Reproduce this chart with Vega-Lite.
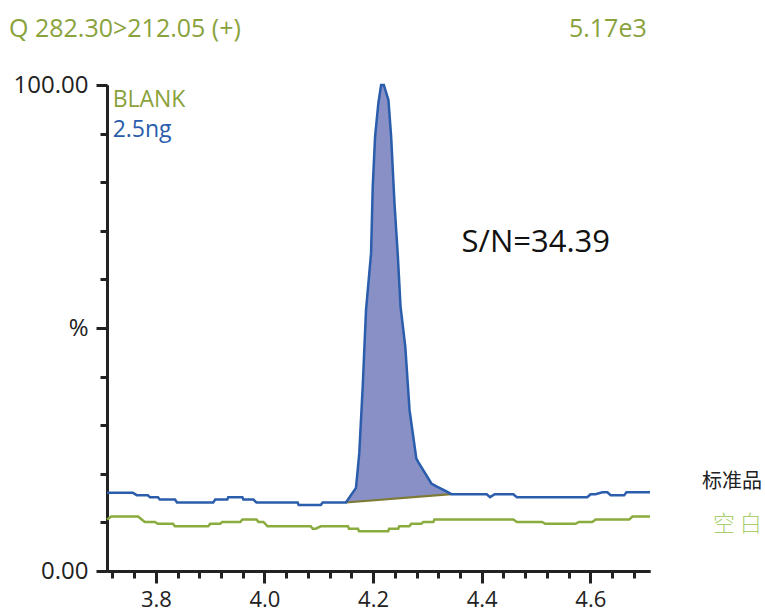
{
  "$schema": "https://vega.github.io/schema/vega-lite/v6.json",
  "width": 543,
  "height": 486,
  "autosize": "none",
  "padding": {"left": 107, "top": 85, "right": 115, "bottom": 40},
  "background": "white",
  "config": {"view": {"stroke": null}, "font": "Open Sans"},
  "resolve": {"axis": {"x": "independent", "y": "independent"}},
  "datasets": {
    "blue": [
      {"t": 3.71, "v": 16.1}, {"t": 3.7574, "v": 16.1}, {"t": 3.7648, "v": 15.6}, {"t": 3.7852, "v": 15.6},
      {"t": 3.7889, "v": 15.2}, {"t": 3.8037, "v": 15.2}, {"t": 3.8074, "v": 14.7}, {"t": 3.8352, "v": 14.7},
      {"t": 3.8389, "v": 14.1}, {"t": 3.9056, "v": 14.1}, {"t": 3.9093, "v": 14.7}, {"t": 3.9315, "v": 14.7},
      {"t": 3.9333, "v": 15.2}, {"t": 3.9593, "v": 15.2}, {"t": 3.9611, "v": 14.7}, {"t": 3.9796, "v": 14.7},
      {"t": 3.9852, "v": 14.1}, {"t": 4.0611, "v": 14.1}, {"t": 4.063, "v": 13.6}, {"t": 4.1037, "v": 13.6},
      {"t": 4.1074, "v": 14.1}, {"t": 4.15, "v": 14.1},
      {"t": 4.1685, "v": 17.1}, {"t": 4.1717, "v": 20.8}, {"t": 4.1746, "v": 24.3}, {"t": 4.1809, "v": 37.9},
      {"t": 4.187, "v": 53.7}, {"t": 4.1963, "v": 65.4}, {"t": 4.1994, "v": 79.1}, {"t": 4.2037, "v": 89.4},
      {"t": 4.2098, "v": 96.3}, {"t": 4.2148, "v": 100}, {"t": 4.2198, "v": 100}, {"t": 4.2283, "v": 96.9},
      {"t": 4.2333, "v": 89.4}, {"t": 4.2394, "v": 75.7}, {"t": 4.2457, "v": 64.7}, {"t": 4.2506, "v": 54.4},
      {"t": 4.2593, "v": 46.2}, {"t": 4.2672, "v": 33.1}, {"t": 4.2796, "v": 23.2}, {"t": 4.2828, "v": 22.5},
      {"t": 4.3074, "v": 18.0}, {"t": 4.3167, "v": 17.4}, {"t": 4.3315, "v": 16.6}, {"t": 4.3444, "v": 15.8},
      {"t": 4.4093, "v": 15.8}, {"t": 4.4154, "v": 15.2}, {"t": 4.4241, "v": 15.8}, {"t": 4.4583, "v": 15.8},
      {"t": 4.4648, "v": 15.2}, {"t": 4.5944, "v": 15.2}, {"t": 4.6006, "v": 15.8}, {"t": 4.6098, "v": 15.8},
      {"t": 4.6222, "v": 16.2}, {"t": 4.6315, "v": 16.2}, {"t": 4.6376, "v": 15.6}, {"t": 4.6624, "v": 15.6},
      {"t": 4.6667, "v": 16.2}, {"t": 4.71, "v": 16.2}
    ],
    "green": [
      {"t": 3.71, "v": 10.6}, {"t": 3.718, "v": 11.2}, {"t": 3.7672, "v": 11.2}, {"t": 3.7796, "v": 10.1},
      {"t": 3.7981, "v": 10.1}, {"t": 3.8037, "v": 9.7}, {"t": 3.8315, "v": 9.7}, {"t": 3.8352, "v": 9.2},
      {"t": 3.8963, "v": 9.2}, {"t": 3.9, "v": 9.7}, {"t": 3.9185, "v": 9.7}, {"t": 3.9222, "v": 10.1},
      {"t": 3.9556, "v": 10.1}, {"t": 3.9593, "v": 10.6}, {"t": 3.9852, "v": 10.6}, {"t": 3.9889, "v": 10.1},
      {"t": 3.9981, "v": 10.1}, {"t": 4.0056, "v": 9.2}, {"t": 4.0852, "v": 9.2}, {"t": 4.0889, "v": 8.7},
      {"t": 4.0944, "v": 8.7}, {"t": 4.1037, "v": 9.2}, {"t": 4.1537, "v": 9.2}, {"t": 4.1556, "v": 8.7},
      {"t": 4.1722, "v": 8.7}, {"t": 4.1741, "v": 8.2}, {"t": 4.2278, "v": 8.2}, {"t": 4.2296, "v": 8.7},
      {"t": 4.2463, "v": 8.7}, {"t": 4.2481, "v": 9.2}, {"t": 4.2667, "v": 9.2}, {"t": 4.2704, "v": 9.7},
      {"t": 4.2889, "v": 9.7}, {"t": 4.2926, "v": 10.1}, {"t": 4.3111, "v": 10.1}, {"t": 4.313, "v": 10.6},
      {"t": 4.4583, "v": 10.6}, {"t": 4.4648, "v": 10.1}, {"t": 4.5111, "v": 10.1}, {"t": 4.5172, "v": 9.7},
      {"t": 4.5728, "v": 9.7}, {"t": 4.5791, "v": 10.1}, {"t": 4.6037, "v": 10.1}, {"t": 4.6098, "v": 10.6},
      {"t": 4.6717, "v": 10.6}, {"t": 4.6778, "v": 11.2}, {"t": 4.71, "v": 11.2}
    ],
    "peak": [
      {"t": 4.15, "v": 14.1, "base": 14.1}, {"t": 4.1685, "v": 17.1, "base": 14.26}, {"t": 4.1717, "v": 20.8, "base": 14.29},
      {"t": 4.1746, "v": 24.3, "base": 14.31}, {"t": 4.1809, "v": 37.9, "base": 14.37}, {"t": 4.187, "v": 53.7, "base": 14.42},
      {"t": 4.1963, "v": 65.4, "base": 14.5}, {"t": 4.1994, "v": 79.1, "base": 14.53}, {"t": 4.2037, "v": 89.4, "base": 14.57},
      {"t": 4.2098, "v": 96.3, "base": 14.62}, {"t": 4.2148, "v": 100, "base": 14.67}, {"t": 4.2198, "v": 100, "base": 14.71},
      {"t": 4.2283, "v": 96.9, "base": 14.78}, {"t": 4.2333, "v": 89.4, "base": 14.83}, {"t": 4.2394, "v": 75.7, "base": 14.88},
      {"t": 4.2457, "v": 64.7, "base": 14.94}, {"t": 4.2506, "v": 54.4, "base": 14.98}, {"t": 4.2593, "v": 46.2, "base": 15.06},
      {"t": 4.2672, "v": 33.1, "base": 15.12}, {"t": 4.2796, "v": 23.2, "base": 15.23}, {"t": 4.2828, "v": 22.5, "base": 15.26},
      {"t": 4.3074, "v": 18.0, "base": 15.48}, {"t": 4.3167, "v": 17.4, "base": 15.56}, {"t": 4.3315, "v": 16.6, "base": 15.69},
      {"t": 4.3444, "v": 15.8, "base": 15.8}
    ],
    "baseline": [{"t": 4.15, "v": 14.1}, {"t": 4.3444, "v": 15.8}]
  },
  "layer": [
    {
      "data": {"name": "green"},
      "mark": {"type": "line", "color": "#8aab3e", "strokeWidth": 2.5},
      "encoding": {
        "x": {"field": "t", "type": "quantitative", "scale": {"domain": [3.71, 4.71], "nice": false, "zero": false},
          "axis": {
            "orient": "bottom",
            "values": [3.72, 3.76, 3.84, 3.88, 3.92, 3.96, 4.04, 4.08, 4.12, 4.16, 4.24, 4.28, 4.32, 4.36, 4.44, 4.48, 4.52, 4.56, 4.64, 4.68],
            "title": null, "grid": false, "labels": false,
            "domainColor": "#222222", "domainWidth": 3,
            "tickColor": "#222222", "tickWidth": 3, "tickSize": 7
          }
        },
        "y": {"field": "v", "type": "quantitative", "scale": {"domain": [0, 100], "nice": false},
          "axis": {
            "orient": "left",
            "values": [10, 20, 30, 40, 60, 70, 80, 90],
            "title": null, "grid": false, "labels": false,
            "domainColor": "#222222", "domainWidth": 3,
            "tickColor": "#222222", "tickWidth": 3, "tickSize": 7
          }
        }
      }
    },
    {
      "data": {"name": "peak"},
      "mark": {"type": "area", "color": "#8890c6", "opacity": 1},
      "encoding": {
        "x": {"field": "t", "type": "quantitative", "axis": null},
        "y": {"field": "v", "type": "quantitative", "axis": null},
        "y2": {"field": "base"}
      }
    },
    {
      "data": {"name": "baseline"},
      "mark": {"type": "line", "color": "#7d7a35", "strokeWidth": 2.2},
      "encoding": {
        "x": {"field": "t", "type": "quantitative", "axis": null},
        "y": {"field": "v", "type": "quantitative", "axis": null}
      }
    },
    {
      "data": {"name": "blue"},
      "mark": {"type": "line", "color": "#2a5dab", "strokeWidth": 2.5},
      "encoding": {
        "x": {"field": "t", "type": "quantitative",
          "axis": {
            "orient": "bottom",
            "values": [3.8, 4.0, 4.2, 4.4, 4.6],
            "title": null, "grid": false,
            "domainColor": "#222222", "domainWidth": 3,
            "tickColor": "#222222", "tickWidth": 3, "tickSize": 12,
            "format": ".1f",
            "labelFont": "Open Sans", "labelFontSize": 22, "labelColor": "#222222", "labelPadding": 6,
            "labelFlush": false, "labelOverlap": false
          }
        },
        "y": {"field": "v", "type": "quantitative",
          "axis": {
            "orient": "left",
            "values": [0, 50, 100],
            "title": null, "grid": false,
            "domainColor": "#222222", "domainWidth": 3,
            "tickColor": "#222222", "tickWidth": 3, "tickSize": 11,
            "labelExpr": "datum.value == 100 ? '100.00' : datum.value == 0 ? '0.00' : '%'",
            "labelFont": "Open Sans", "labelFontSize": 24, "labelColor": "#222222", "labelPadding": 8,
            "labelFlush": false, "labelOverlap": false
          }
        }
      }
    },
    {
      "data": {"values": [{"t": 3.5296, "v": 109.9, "label": "Q 282.30>212.05 (+)"}]},
      "mark": {"type": "text", "align": "left", "baseline": "alphabetic", "fontSize": 25, "color": "#8aa23c", "font": "Open Sans"},
      "encoding": {"x": {"field": "t", "type": "quantitative", "axis": null}, "y": {"field": "v", "type": "quantitative", "axis": null}, "text": {"field": "label"}}
    },
    {
      "data": {"values": [{"t": 4.704, "v": 109.9, "label": "5.17e3"}]},
      "mark": {"type": "text", "align": "right", "baseline": "alphabetic", "fontSize": 25, "color": "#8aa23c", "font": "Open Sans"},
      "encoding": {"x": {"field": "t", "type": "quantitative", "axis": null}, "y": {"field": "v", "type": "quantitative", "axis": null}, "text": {"field": "label"}}
    },
    {
      "data": {"values": [{"t": 3.7204, "v": 95.4, "label": "BLANK"}]},
      "mark": {"type": "text", "align": "left", "baseline": "alphabetic", "fontSize": 23, "color": "#8aa23c", "font": "Open Sans"},
      "encoding": {"x": {"field": "t", "type": "quantitative", "axis": null}, "y": {"field": "v", "type": "quantitative", "axis": null}, "text": {"field": "label"}}
    },
    {
      "data": {"values": [{"t": 3.7204, "v": 89.4, "label": "2.5ng"}]},
      "mark": {"type": "text", "align": "left", "baseline": "alphabetic", "fontSize": 23, "color": "#2a5dab", "font": "Open Sans"},
      "encoding": {"x": {"field": "t", "type": "quantitative", "axis": null}, "y": {"field": "v", "type": "quantitative", "axis": null}, "text": {"field": "label"}}
    },
    {
      "data": {"values": [{"t": 4.363, "v": 65.6, "label": "S/N=34.39"}]},
      "mark": {"type": "text", "align": "left", "baseline": "alphabetic", "fontSize": 31, "color": "#111111", "font": "Open Sans"},
      "encoding": {"x": {"field": "t", "type": "quantitative", "axis": null}, "y": {"field": "v", "type": "quantitative", "axis": null}, "text": {"field": "label"}}
    },
    {
      "data": {"values": [{"t": 4.8056, "v": 17.1, "label": "标准品"}]},
      "mark": {"type": "text", "align": "left", "baseline": "alphabetic", "fontSize": 20, "color": "#222222", "font": "Noto Sans CJK SC"},
      "encoding": {"x": {"field": "t", "type": "quantitative", "axis": null}, "y": {"field": "v", "type": "quantitative", "axis": null}, "text": {"field": "label"}}
    },
    {
      "data": {"values": [{"t": 4.8259, "v": 8.2, "label": "空 白"}]},
      "mark": {"type": "text", "align": "left", "baseline": "alphabetic", "fontSize": 22, "color": "#a8d06e", "font": "Noto Sans CJK SC", "fontWeight": 300},
      "encoding": {"x": {"field": "t", "type": "quantitative", "axis": null}, "y": {"field": "v", "type": "quantitative", "axis": null}, "text": {"field": "label"}}
    }
  ]
}
